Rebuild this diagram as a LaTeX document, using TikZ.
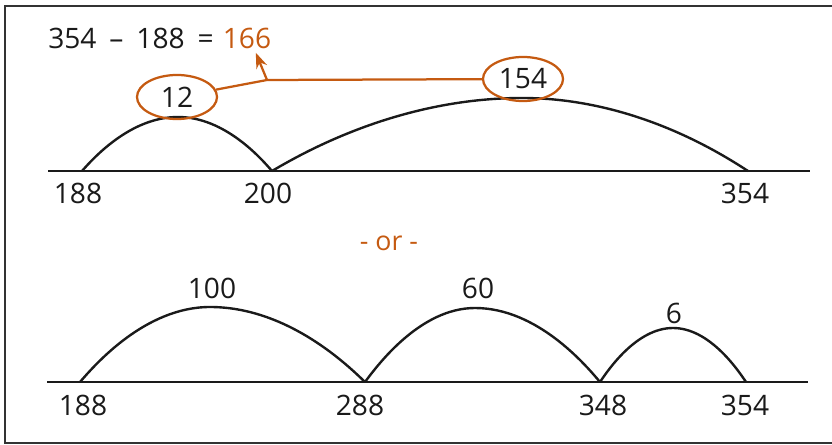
\documentclass[tikz,border=0pt]{standalone}
\usepackage{fontspec}
\setmainfont{Open Sans}
\usepackage{tikz}
\usetikzlibrary{shapes.geometric, arrows.meta}
\definecolor{accent}{HTML}{C55A11}
\definecolor{ink}{HTML}{1A1A1A}

\begin{document}
\begin{tikzpicture}[x=0.025cm, y=-0.025cm]
    \tikzstyle{num}=[font=\fontsize{20}{22}\selectfont, text=ink, inner sep=0pt]
    \tikzstyle{axis}=[line width=2.1pt, color=ink]
    \tikzstyle{jump}=[line width=1.7pt, color=ink]
    \tikzstyle{ring}=[ellipse, draw=accent, line width=1.6pt, inner sep=0pt,
                      minimum width=2cm, minimum height=1.1cm, font=\fontsize{20}{22}\selectfont, text=ink]
    \tikzstyle{link}=[line width=1.6pt, color=accent]

    \useasboundingbox (0,0) rectangle (832,445);
    \draw[line width=1.6pt, color=black!80] (5,6) rectangle (840,443);

    % first way
    \node[num, anchor=base east] (eq)  at (214,49) {354\hspace{4pt} – \hspace{4pt}188\hspace{4pt} =};
    \node[num, text=accent, anchor=base] (res) at (247,49) {166};

    \coordinate (l1) at (48,171);
    \coordinate (r1) at (810,171);
    \coordinate (a188) at (82,171);
    \coordinate (a200) at (272,171);
    \coordinate (a354) at (748,171);
    \coordinate (p12)  at (178,117);
    \coordinate (p154) at (522,98);

    \draw[axis] (l1) -- (r1);
    \draw[jump] (a188) parabola bend (p12) (a200);
    \draw[jump] (a200) parabola bend (p154) (a354);

    \node[num] (t188) at (78,193)  {188};
    \node[num] (t200) at (268,193) {200};
    \node[num] (t354) at (745,193) {354};

    \node[ring] (r12)  at (177,97) {12};
    \node[ring] (r154) at (523,79) {154};

    \coordinate (knee) at (267,80);
    \draw[link] (r12) -- (knee) -- (r154);
    \draw[link, -{Stealth[length=11pt, width=8pt]}] (knee) -- ([xshift=0.22cm, yshift=-0.08cm]res.south);

    \node[font=\fontsize{19}{21}\selectfont, text=accent] (or) at (389,243) {- or -};

    % second way
    \coordinate (l2) at (47,382);
    \coordinate (r2) at (808,382);
    \coordinate (b188) at (80,382);
    \coordinate (b288) at (365,382);
    \coordinate (b348) at (600,382);
    \coordinate (b354) at (746,382);
    \coordinate (p100) at (210,307);
    \coordinate (p60)  at (475,308);
    \coordinate (p6)   at (673,328);

    \draw[axis] (l2) -- (r2);
    \draw[jump] (b188) parabola bend (p100) (b288);
    \draw[jump] (b288) parabola bend (p60) (b348);
    \draw[jump] (b348) parabola bend (p6) (b354);

    \node[num] (j100) at (212,288) {100};
    \node[num] (j60)  at (478,288) {60};
    \node[num] (j6)   at (674,313) {6};

    \node[num] (s188) at (83,405)  {188};
    \node[num] (s288) at (360,405) {288};
    \node[num] (s348) at (603,405) {348};
    \node[num] (s354) at (745,405) {354};
\end{tikzpicture}
\end{document}
